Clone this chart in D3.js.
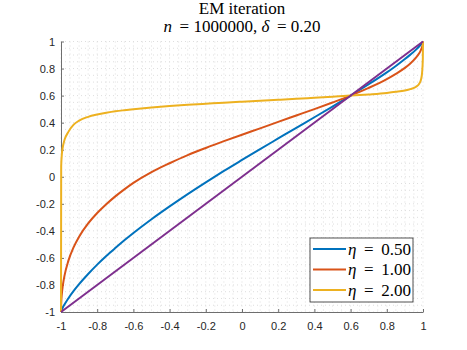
<!DOCTYPE html>
<html>
<head>
    <meta charset="utf-8">
    <style>
        body { margin: 0; background: #fff; }
    </style>
</head>
<body>
<script src="https://cdn.jsdelivr.net/npm/d3@7"></script>
<script>
    // shared x samples
    var xs = [-1, -0.999, -0.995, -0.99, -0.98, -0.96, -0.93, -0.9, -0.85, -0.8, -0.75, -0.7, -0.65, -0.6, -0.5, -0.4, -0.3, -0.2, -0.1,
        0, 0.1, 0.2, 0.3, 0.4, 0.5, 0.6, 0.7, 0.8, 0.85, 0.9, 0.93, 0.96, 0.98, 0.99, 0.995, 0.999, 1];

    var eta050 = [-1, -0.995, -0.981, -0.967, -0.943, -0.900, -0.844, -0.794, -0.719, -0.650, -0.586, -0.527, -0.470, -0.416, -0.314, -0.219, -0.128, -0.041, 0.043,
        0.124, 0.204, 0.283, 0.362, 0.440, 0.519, 0.600, 0.684, 0.772, 0.819, 0.870, 0.903, 0.938, 0.965, 0.980, 0.989, 0.997, 1];

    var eta100 = [-1, -0.94, -0.862, -0.805, -0.727, -0.624, -0.520, -0.443, -0.345, -0.268, -0.203, -0.145, -0.093, -0.045, 0.035, 0.100, 0.160, 0.213, 0.263,
        0.311, 0.358, 0.406, 0.453, 0.500, 0.549, 0.600, 0.657, 0.722, 0.761, 0.805, 0.838, 0.879, 0.915, 0.941, 0.959, 0.983, 1];

    var eta200 = [-1, 0.08, 0.17, 0.22, 0.275, 0.33, 0.385, 0.415, 0.443, 0.46, 0.473, 0.484, 0.492, 0.499, 0.512, 0.523, 0.532, 0.540, 0.548,
        0.555, 0.562, 0.569, 0.576, 0.584, 0.592, 0.600, 0.609, 0.620, 0.628, 0.638, 0.648, 0.664, 0.69, 0.725, 0.77, 0.87, 1];

    var diagX = [-1, 1];
    var diagY = [-1, 1];

    var legendLabels = ['0.50', '1.00', '2.00'];
    var tickVals = [-1, -0.8, -0.6, -0.4, -0.2, 0, 0.2, 0.4, 0.6, 0.8, 1];
    var tickText = ['-1', '-0.8', '-0.6', '-0.4', '-0.2', '0', '0.2', '0.4', '0.6', '0.8', '1'];

    var colors = ['#0072BD', '#D95319', '#EDB120', '#7E2F8E'];

    var W = 467, H = 350;
    var plot = { left: 61, right: 423, top: 41.5, bottom: 312 };

    var svg = d3.select('body').append('svg')
        .attr('width', W)
        .attr('height', H);

    var x = d3.scaleLinear().domain([-1, 1]).range([plot.left, plot.right]);
    var y = d3.scaleLinear().domain([-1, 1]).range([plot.bottom, plot.top]);

    // dotted grid every 0.05
    var minor = d3.range(-1, 1.0001, 0.05).map(function (v) { return Math.round(v * 100) / 100; });
    var grid = svg.append('g');
    grid.selectAll('.gx').data(minor).enter().append('line')
        .attr('x1', function (d) { return x(d); })
        .attr('x2', function (d) { return x(d); })
        .attr('y1', plot.top)
        .attr('y2', plot.bottom)
        .attr('stroke', '#dedede')
        .attr('stroke-width', 1)
        .attr('stroke-dasharray', '1,3');
    grid.selectAll('.gy').data(minor).enter().append('line')
        .attr('x1', plot.left)
        .attr('x2', plot.right)
        .attr('y1', function (d) { return y(d); })
        .attr('y2', function (d) { return y(d); })
        .attr('stroke', '#dedede')
        .attr('stroke-width', 1)
        .attr('stroke-dasharray', '1,3');

    // axes
    var fmt = function (d) { return tickText[tickVals.indexOf(d)]; };
    var xAxis = svg.append('g')
        .attr('transform', 'translate(0,' + plot.bottom + ')')
        .call(d3.axisBottom(x).tickValues(tickVals).tickFormat(fmt).tickSizeInner(-3).tickSizeOuter(0).tickPadding(10));
    var yAxis = svg.append('g')
        .attr('transform', 'translate(' + plot.left + ',0)')
        .call(d3.axisLeft(y).tickValues(tickVals).tickFormat(fmt).tickSizeInner(-3).tickSizeOuter(0).tickPadding(6));

    [xAxis, yAxis].forEach(function (a) {
        a.select('.domain').attr('stroke', '#6e6e6e');
        a.selectAll('.tick line').attr('stroke', '#6e6e6e');
        a.selectAll('text')
            .attr('fill', '#262626')
            .style('font-family', 'Liberation Sans, Arial, sans-serif')
            .style('font-size', '11px');
    });

    // curves
    var line = d3.line()
        .x(function (d) { return x(d[0]); })
        .y(function (d) { return y(d[1]); })
        .curve(d3.curveMonotoneX);

    var series = [eta050, eta100, eta200].map(function (ys) {
        return xs.map(function (v, i) { return [v, ys[i]]; });
    });
    series.push(diagX.map(function (v, i) { return [v, diagY[i]]; }));

    svg.append('g').selectAll('path').data(series).enter().append('path')
        .attr('d', line)
        .attr('fill', 'none')
        .attr('stroke', function (d, i) { return colors[i]; })
        .attr('stroke-width', 2);

    // title
    var cx = (plot.left + plot.right) / 2;
    var title = svg.append('text')
        .attr('x', cx)
        .attr('text-anchor', 'middle')
        .attr('fill', '#000')
        .style('font-family', 'Liberation Serif, DejaVu Serif, serif')
        .style('font-size', '17px');
    title.append('tspan').attr('x', cx).attr('y', 14).text('EM iteration');
    var t2 = title.append('tspan').attr('x', cx).attr('y', 32);
    t2.append('tspan').style('font-style', 'italic').text('n');
    t2.append('tspan').text(' \u2009= 1000000, ');
    t2.append('tspan').style('font-style', 'italic').text('δ');
    t2.append('tspan').text(' \u2009= 0.20');

    // legend
    var leg = { x: 310, y: 238, w: 103, h: 64, row: 20.5 };
    svg.append('rect')
        .attr('x', leg.x).attr('y', leg.y)
        .attr('width', leg.w).attr('height', leg.h)
        .attr('fill', '#fff')
        .attr('stroke', '#262626')
        .attr('stroke-width', 0.8);

    var items = svg.append('g').selectAll('g').data(legendLabels).enter().append('g')
        .attr('transform', function (d, i) {
            return 'translate(' + leg.x + ',' + (leg.y + 11 + leg.row * i) + ')';
        });
    items.append('line')
        .attr('x1', 3).attr('x2', 36)
        .attr('stroke', function (d, i) { return colors[i]; })
        .attr('stroke-width', 2);
    var lt = items.append('text')
        .attr('x', 38)
        .attr('y', 5.5)
        .attr('fill', '#000')
        .style('font-family', 'Liberation Serif, DejaVu Serif, serif')
        .style('font-size', '17px');
    lt.append('tspan').style('font-style', 'italic').text('η');
    lt.append('tspan').text(function (d) { return ' \u2009= \u2009' + d; });
</script>
</body>
</html>
